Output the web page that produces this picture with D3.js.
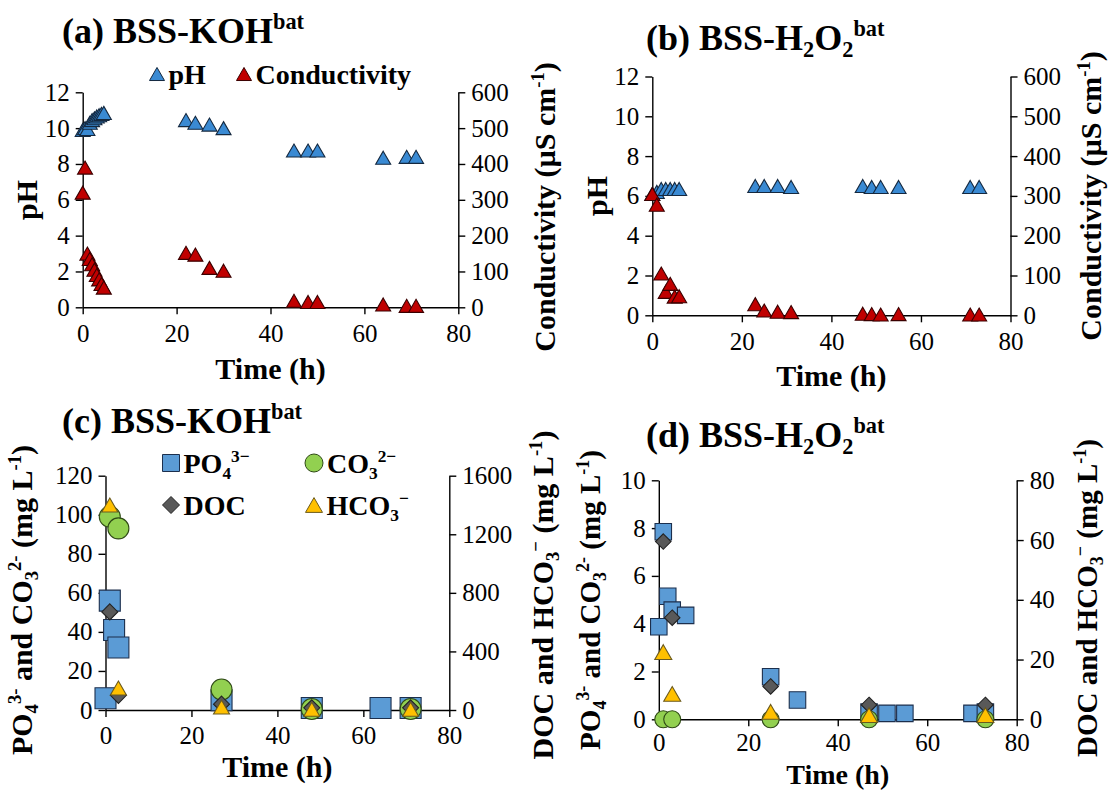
<!DOCTYPE html>
<html><head><meta charset="utf-8">
<script src="https://cdn.jsdelivr.net/npm/d3@7"></script>
<style>
body{margin:0;background:#fff}
svg{display:block}
</style>
</head><body>
<svg id="chart" width="1109" height="790"></svg>
<script>
// ---------- tick labels ----------
const timeTicks = [0, 20, 40, 60, 80];
const phTicks = [0, 2, 4, 6, 8, 10, 12];
const condTicks = [0, 100, 200, 300, 400, 500, 600];
const cLeftTicks = [0, 20, 40, 60, 80, 100, 120];
const cRightTicks = [0, 400, 800, 1200, 1600];
const dLeftTicks = [0, 2, 4, 6, 8, 10];
const dRightTicks = [0, 20, 40, 60, 80];

// ---------- (a) BSS-KOH bat ----------
const aTime = [0, 0.5, 1, 1.5, 2, 2.5, 3, 3.5, 4, 4.5, 22, 24, 27, 30, 45, 48, 50, 64, 69, 71];
const aPH = [9.9, 10.0, 9.95, 10.3, 10.45, 10.55, 10.65, 10.72, 10.8, 10.85, 10.45, 10.3, 10.2, 10.0, 8.75, 8.75, 8.75, 8.35, 8.4, 8.4];
const aCond = [320, 390, 150, 135, 120, 105, 90, 78, 65, 55, 152, 147, 110, 102, 18, 15, 15, 8, 4, 4];

// ---------- (b) BSS-H2O2 bat ----------
const bTime = [0, 1, 2, 3, 4, 5, 6, 23, 25, 28, 31, 47, 49, 51, 55, 71, 73];
const bPH = [6.1, 6.2, 6.35, 6.35, 6.35, 6.35, 6.35, 6.5, 6.5, 6.5, 6.45, 6.5, 6.45, 6.45, 6.45, 6.45, 6.45];
const bCond = [305, 278, 105, 59, 79, 47, 48, 28, 12, 9, 8, 4, 3, 2, 3, 2, 2];

// ---------- (c) BSS-KOH bat ----------
const cTimePO4 = [0, 1, 2, 3, 27, 48, 64, 71];
const cPO4 = [6, 56, 41, 32, 5, 1, 1, 1];
const cTimeCO3 = [1, 3, 27, 48, 71];
const cCO3 = [99, 93, 10.5, 0.5, 0.5];
const cTimeDOC = [1, 3, 27, 48, 71];
const cDOC = [670, 100, 40, 15, 15];
const cTimeHCO3 = [1, 3, 27, 48, 71];
const cHCO3 = [1400, 150, 20, 5, 5];

// ---------- (d) BSS-H2O2 bat ----------
const dTimePO4 = [0, 1, 2, 3, 6, 25, 31, 47, 51, 55, 70, 73];
const dPO4 = [3.87, 7.85, 5.15, 4.57, 4.35, 1.78, 0.81, 0.3, 0.25, 0.25, 0.25, 0.3];
const dTimeCO3 = [1, 3, 25, 47, 73];
const dCO3 = [0, 0, 0, 0, 0];
const dTimeDOC = [1, 3, 25, 47, 73];
const dDOC = [59.5, 34, 11, 4.8, 4.8];
const dTimeHCO3 = [1, 3, 25, 47, 73];
const dHCO3 = [22.5, 8.5, 2.5, 1.4, 1.4];

// ---------- styles ----------
const FONT = '"Liberation Serif","Times New Roman",serif';
const COL = {
  ph: "#3a8ad3", cond: "#c00000",
  po4: "#5b9bd5", co3: "#92d050", doc: "#595959", hco3: "#ffc000"
};
const STROKE = {
  ph: "#14283f", cond: "#3a0000",
  po4: "#1c2f4d", co3: "#2f4a16", doc: "#222222", hco3: "#6b5a1e"
};
const TICK_FS = 25, HEAD_FS = 36, LEG_FS = 28;

const svg = d3.select("#chart");

function shapePath(kind, s) {
  const p = d3.path();
  if (kind === "tri") {
    const w = s, h = s * 0.87;
    p.moveTo(0, -h / 2); p.lineTo(w / 2, h / 2); p.lineTo(-w / 2, h / 2); p.closePath();
  } else if (kind === "sq") {
    p.rect(-s / 2, -s / 2, s, s);
  } else if (kind === "dia") {
    p.moveTo(0, -s / 2); p.lineTo(s / 2, 0); p.lineTo(0, s / 2); p.lineTo(-s / 2, 0); p.closePath();
  } else if (kind === "circ") {
    p.arc(0, 0, s / 2, 0, 2 * Math.PI);
  }
  return p.toString();
}

function rich(textSel, parts, fs) {
  let shift = 0;
  parts.forEach(([str, t]) => {
    let target = 0, size = fs;
    if (t === "sup") { target = -fs * 0.38; size = fs * 0.62; }
    if (t === "sub") { target = fs * 0.2; size = fs * 0.62; }
    textSel.append("tspan").attr("dy", target - shift).attr("font-size", size).text(str);
    shift = target;
  });
}

function addText(x, y, fs, anchor, rotate) {
  return svg.append("text")
    .attr("transform", rotate ? `translate(${x},${y}) rotate(-90)` : `translate(${x},${y})`)
    .attr("font-family", FONT).attr("font-weight", "bold").attr("font-size", fs)
    .attr("text-anchor", anchor).attr("fill", "#000");
}

function drawPanel(cfg) {
  const x = d3.scaleLinear().domain([0, 80]).range([cfg.l, cfg.r]);
  const yL = d3.scaleLinear().domain([0, cfg.yLMax]).range([cfg.b, cfg.t]);
  const yR = d3.scaleLinear().domain([0, cfg.yRMax]).range([cfg.b, cfg.t]);
  const g = svg.append("g");
  const fmt = d3.format("d");

  const style = sel => {
    sel.attr("font-family", FONT).attr("font-size", TICK_FS);
    sel.selectAll("path.domain").attr("stroke", "#000").attr("stroke-width", 1.4);
    sel.selectAll(".tick line").attr("stroke", "#000").attr("stroke-width", 1.4);
    sel.selectAll(".tick text").attr("font-size", TICK_FS).attr("fill", "#000");
  };

  g.append("g").attr("transform", `translate(0,${cfg.b})`)
    .call(d3.axisBottom(x).tickValues(timeTicks).tickFormat(fmt).tickSizeInner(7).tickSizeOuter(0).tickPadding(cfg.xPad))
    .call(style);
  g.append("g").attr("transform", `translate(${cfg.l},0)`)
    .call(d3.axisLeft(yL).tickValues(cfg.yLTicks).tickFormat(fmt).tickSizeInner(7).tickSizeOuter(0).tickPadding(6))
    .call(style);
  g.append("g").attr("transform", `translate(${cfg.r},0)`)
    .call(d3.axisRight(yR).tickValues(cfg.yRTicks).tickFormat(fmt).tickSizeInner(7).tickSizeOuter(0).tickPadding(6))
    .call(style);

  cfg.series.forEach(s => {
    const sc = s.axis === "R" ? yR : yL;
    g.append("g").selectAll("path").data(s.t.map((t, i) => [t, s.v[i]])).join("path")
      .attr("d", shapePath(s.shape, s.size))
      .attr("transform", d => `translate(${x(d[0])},${sc(d[1])})`)
      .attr("fill", s.fill).attr("stroke", s.stroke).attr("stroke-width", 1.1);
  });

  rich(addText(cfg.head[0], cfg.head[1], HEAD_FS, "start", false), cfg.headParts, HEAD_FS);
  addText((cfg.l + cfg.r) / 2, cfg.xTitleY, cfg.xFs, "middle", false).text("Time (h)");
  rich(addText(cfg.yLTitle[0], cfg.yLTitle[1], cfg.yFs, "middle", true), cfg.yLParts, cfg.yFs);
  rich(addText(cfg.yRTitle[0], cfg.yRTitle[1], cfg.yFs, "middle", true), cfg.yRParts, cfg.yFs);
}

const condParts = [["Conductivity (µS cm", "n"], ["-1", "sup"], [")", "n"]];
const leftParts = [["PO", "n"], ["4", "sub"], ["3-", "sup"], [" and CO", "n"], ["3", "sub"], ["2-", "sup"], [" (mg L", "n"], ["-1", "sup"], [")", "n"]];
const rightParts = [["DOC and HCO", "n"], ["3", "sub"], ["−", "sup"], [" (mg L", "n"], ["-1", "sup"], [")", "n"]];

drawPanel({
  l: 82.7, r: 458.3, t: 92.3, b: 307.3, yLMax: 12, yRMax: 600,
  yLTicks: phTicks, yRTicks: condTicks, yFs: 30, xFs: 30, xPad: 10,
  head: [62, 43], headParts: [["(a) BSS-KOH", "n"], ["bat", "sup"]],
  xTitleY: 379, yLTitle: [37, 200], yLParts: [["pH", "n"]],
  yRTitle: [555, 207], yRParts: condParts,
  series: [
    { t: aTime, v: aPH, axis: "L", shape: "tri", size: 15, fill: COL.ph, stroke: STROKE.ph },
    { t: aTime, v: aCond, axis: "R", shape: "tri", size: 15, fill: COL.cond, stroke: STROKE.cond }
  ]
});

drawPanel({
  l: 652.3, r: 1010.5, t: 76.5, b: 315.3, yLMax: 12, yRMax: 600,
  yLTicks: phTicks, yRTicks: condTicks, yFs: 30, xFs: 30, xPad: 10,
  head: [646, 50], headParts: [["(b) BSS-H", "n"], ["2", "sub"], ["O", "n"], ["2", "sub"], ["bat", "sup"]],
  xTitleY: 386, yLTitle: [607, 196], yLParts: [["pH", "n"]],
  yRTitle: [1101, 196], yRParts: condParts,
  series: [
    { t: bTime, v: bPH, axis: "L", shape: "tri", size: 15, fill: COL.ph, stroke: STROKE.ph },
    { t: bTime, v: bCond, axis: "R", shape: "tri", size: 15, fill: COL.cond, stroke: STROKE.cond }
  ]
});

drawPanel({
  l: 105.5, r: 449.3, t: 475.7, b: 710, yLMax: 120, yRMax: 1600,
  yLTicks: cLeftTicks, yRTicks: cRightTicks, yFs: 30, xFs: 30, xPad: 9,
  head: [62, 433], headParts: [["(c) BSS-KOH", "n"], ["bat", "sup"]],
  xTitleY: 777, yLTitle: [32, 600], yLParts: leftParts,
  yRTitle: [553, 595], yRParts: rightParts,
  series: [
    { t: cTimePO4, v: cPO4, axis: "L", shape: "sq", size: 21, fill: COL.po4, stroke: STROKE.po4 },
    { t: cTimeCO3, v: cCO3, axis: "L", shape: "circ", size: 21, fill: COL.co3, stroke: STROKE.co3 },
    { t: cTimeDOC, v: cDOC, axis: "R", shape: "dia", size: 16, fill: COL.doc, stroke: STROKE.doc },
    { t: cTimeHCO3, v: cHCO3, axis: "R", shape: "tri", size: 16, fill: COL.hco3, stroke: STROKE.hco3 }
  ]
});

drawPanel({
  l: 658.8, r: 1016.7, t: 480.3, b: 719.3, yLMax: 10, yRMax: 80,
  yLTicks: dLeftTicks, yRTicks: dRightTicks, yFs: 29, xFs: 28, xPad: 7,
  head: [646, 447], headParts: [["(d) BSS-H", "n"], ["2", "sub"], ["O", "n"], ["2", "sub"], ["bat", "sup"]],
  xTitleY: 784, yLTitle: [600, 600], yLParts: leftParts,
  yRTitle: [1097, 598], yRParts: rightParts,
  series: [
    { t: dTimePO4, v: dPO4, axis: "L", shape: "sq", size: 16.5, fill: COL.po4, stroke: STROKE.po4 },
    { t: dTimeCO3, v: dCO3, axis: "L", shape: "circ", size: 17, fill: COL.co3, stroke: STROKE.co3 },
    { t: dTimeDOC, v: dDOC, axis: "R", shape: "dia", size: 15.5, fill: COL.doc, stroke: STROKE.doc },
    { t: dTimeHCO3, v: dHCO3, axis: "R", shape: "tri", size: 17, fill: COL.hco3, stroke: STROKE.hco3 }
  ]
});

// ---------- legends ----------
function legendItem(x, y, shape, size, fill, stroke, parts) {
  svg.append("path").attr("d", shapePath(shape, size)).attr("transform", `translate(${x},${y})`)
    .attr("fill", fill).attr("stroke", stroke).attr("stroke-width", 1);
  rich(addText(x + size / 2 + 4, y + 10, LEG_FS, "start", false), parts, LEG_FS);
}
legendItem(157, 74, "tri", 15, COL.ph, STROKE.ph, [["pH", "n"]]);
legendItem(244, 74, "tri", 15, COL.cond, STROKE.cond, [["Conductivity", "n"]]);

legendItem(171, 463, "sq", 17, COL.po4, STROKE.po4, [["PO", "n"], ["4", "sub"], ["3−", "sup"]]);
legendItem(314, 463, "circ", 18, COL.co3, STROKE.co3, [["CO", "n"], ["3", "sub"], ["2−", "sup"]]);
legendItem(171, 505, "dia", 17, COL.doc, STROKE.doc, [["DOC", "n"]]);
legendItem(314, 505, "tri", 17, COL.hco3, STROKE.hco3, [["HCO", "n"], ["3", "sub"], ["−", "sup"]]);
</script>
</body></html>
